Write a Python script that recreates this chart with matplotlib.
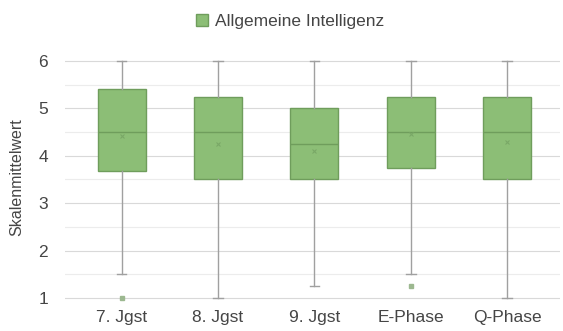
import matplotlib
matplotlib.use("Agg")
import matplotlib.pyplot as plt
from matplotlib.patches import Patch

plt.rcParams['font.family'] = ['Liberation Sans', 'DejaVu Sans']

groups = ["7. Jgst", "8. Jgst", "9. Jgst", "E-Phase", "Q-Phase"]
whislo = [1.5, 1.0, 1.25, 1.5, 1.0]
q1 = [3.67, 3.5, 3.5, 3.75, 3.5]
med = [4.5, 4.5, 4.25, 4.5, 4.5]
q3 = [5.4, 5.25, 5.0, 5.25, 5.25]
whishi = [6.0, 6.0, 6.0, 6.0, 6.0]
means = [4.42, 4.25, 4.1, 4.45, 4.3]
outliers = [[1.0], [], [], [1.25], []]

green = "#8cbe76"
edge = "#6f9d5c"
gray = "#a0a0a0"
txt = "#454545"

stats = []
for i in range(len(groups)):
    stats.append(dict(label=groups[i], whislo=whislo[i], q1=q1[i], med=med[i],
                      q3=q3[i], whishi=whishi[i], mean=means[i], fliers=outliers[i]))

fig = plt.figure(figsize=(5.63, 3.31), dpi=100)
ax = fig.add_axes([0.115, 0.09, 0.88, 0.747])

ax.bxp(stats, positions=range(1, 6), widths=0.5, patch_artist=True, showmeans=True,
       boxprops=dict(facecolor=green, edgecolor=edge, linewidth=1),
       medianprops=dict(color=edge, linewidth=1),
       whiskerprops=dict(color=gray, linewidth=1),
       capprops=dict(color=gray, linewidth=1),
       capwidths=0.1,
       meanprops=dict(marker='x', markersize=3, markeredgecolor="#7aa867", markeredgewidth=0.8),
       flierprops=dict(marker='s', markersize=3, markerfacecolor="#9cb890", markeredgecolor="#9cb890"))

ax.set_xlim(0.41, 5.55)
ax.set_ylim(0.93, 6.15)
ax.set_yticks([1, 2, 3, 4, 5, 6])
ax.set_yticks([1.5, 2.5, 3.5, 4.5, 5.5], minor=True)
ax.grid(axis='y', which='major', color="#d9d9d9", linewidth=0.8)
ax.grid(axis='y', which='minor', color="#ececec", linewidth=0.8)
ax.set_axisbelow(True)
for s in ax.spines.values():
    s.set_visible(False)
ax.tick_params(axis='both', which='both', length=0, labelsize=12.5, colors=txt)
ax.tick_params(axis='y', pad=12)
ax.tick_params(axis='x', pad=6)
ax.set_ylabel("Skalenmittelwert", fontsize=11.5, color=txt, labelpad=10)

fig.legend(handles=[Patch(facecolor=green, edgecolor=edge, label="Allgemeine Intelligenz")],
           loc='upper center', bbox_to_anchor=(0.515, 1.005), frameon=False, fontsize=12.5,
           handlelength=0.7, handleheight=0.7, handletextpad=0.4, labelcolor=txt)

fig.savefig("out.png", dpi=100)
